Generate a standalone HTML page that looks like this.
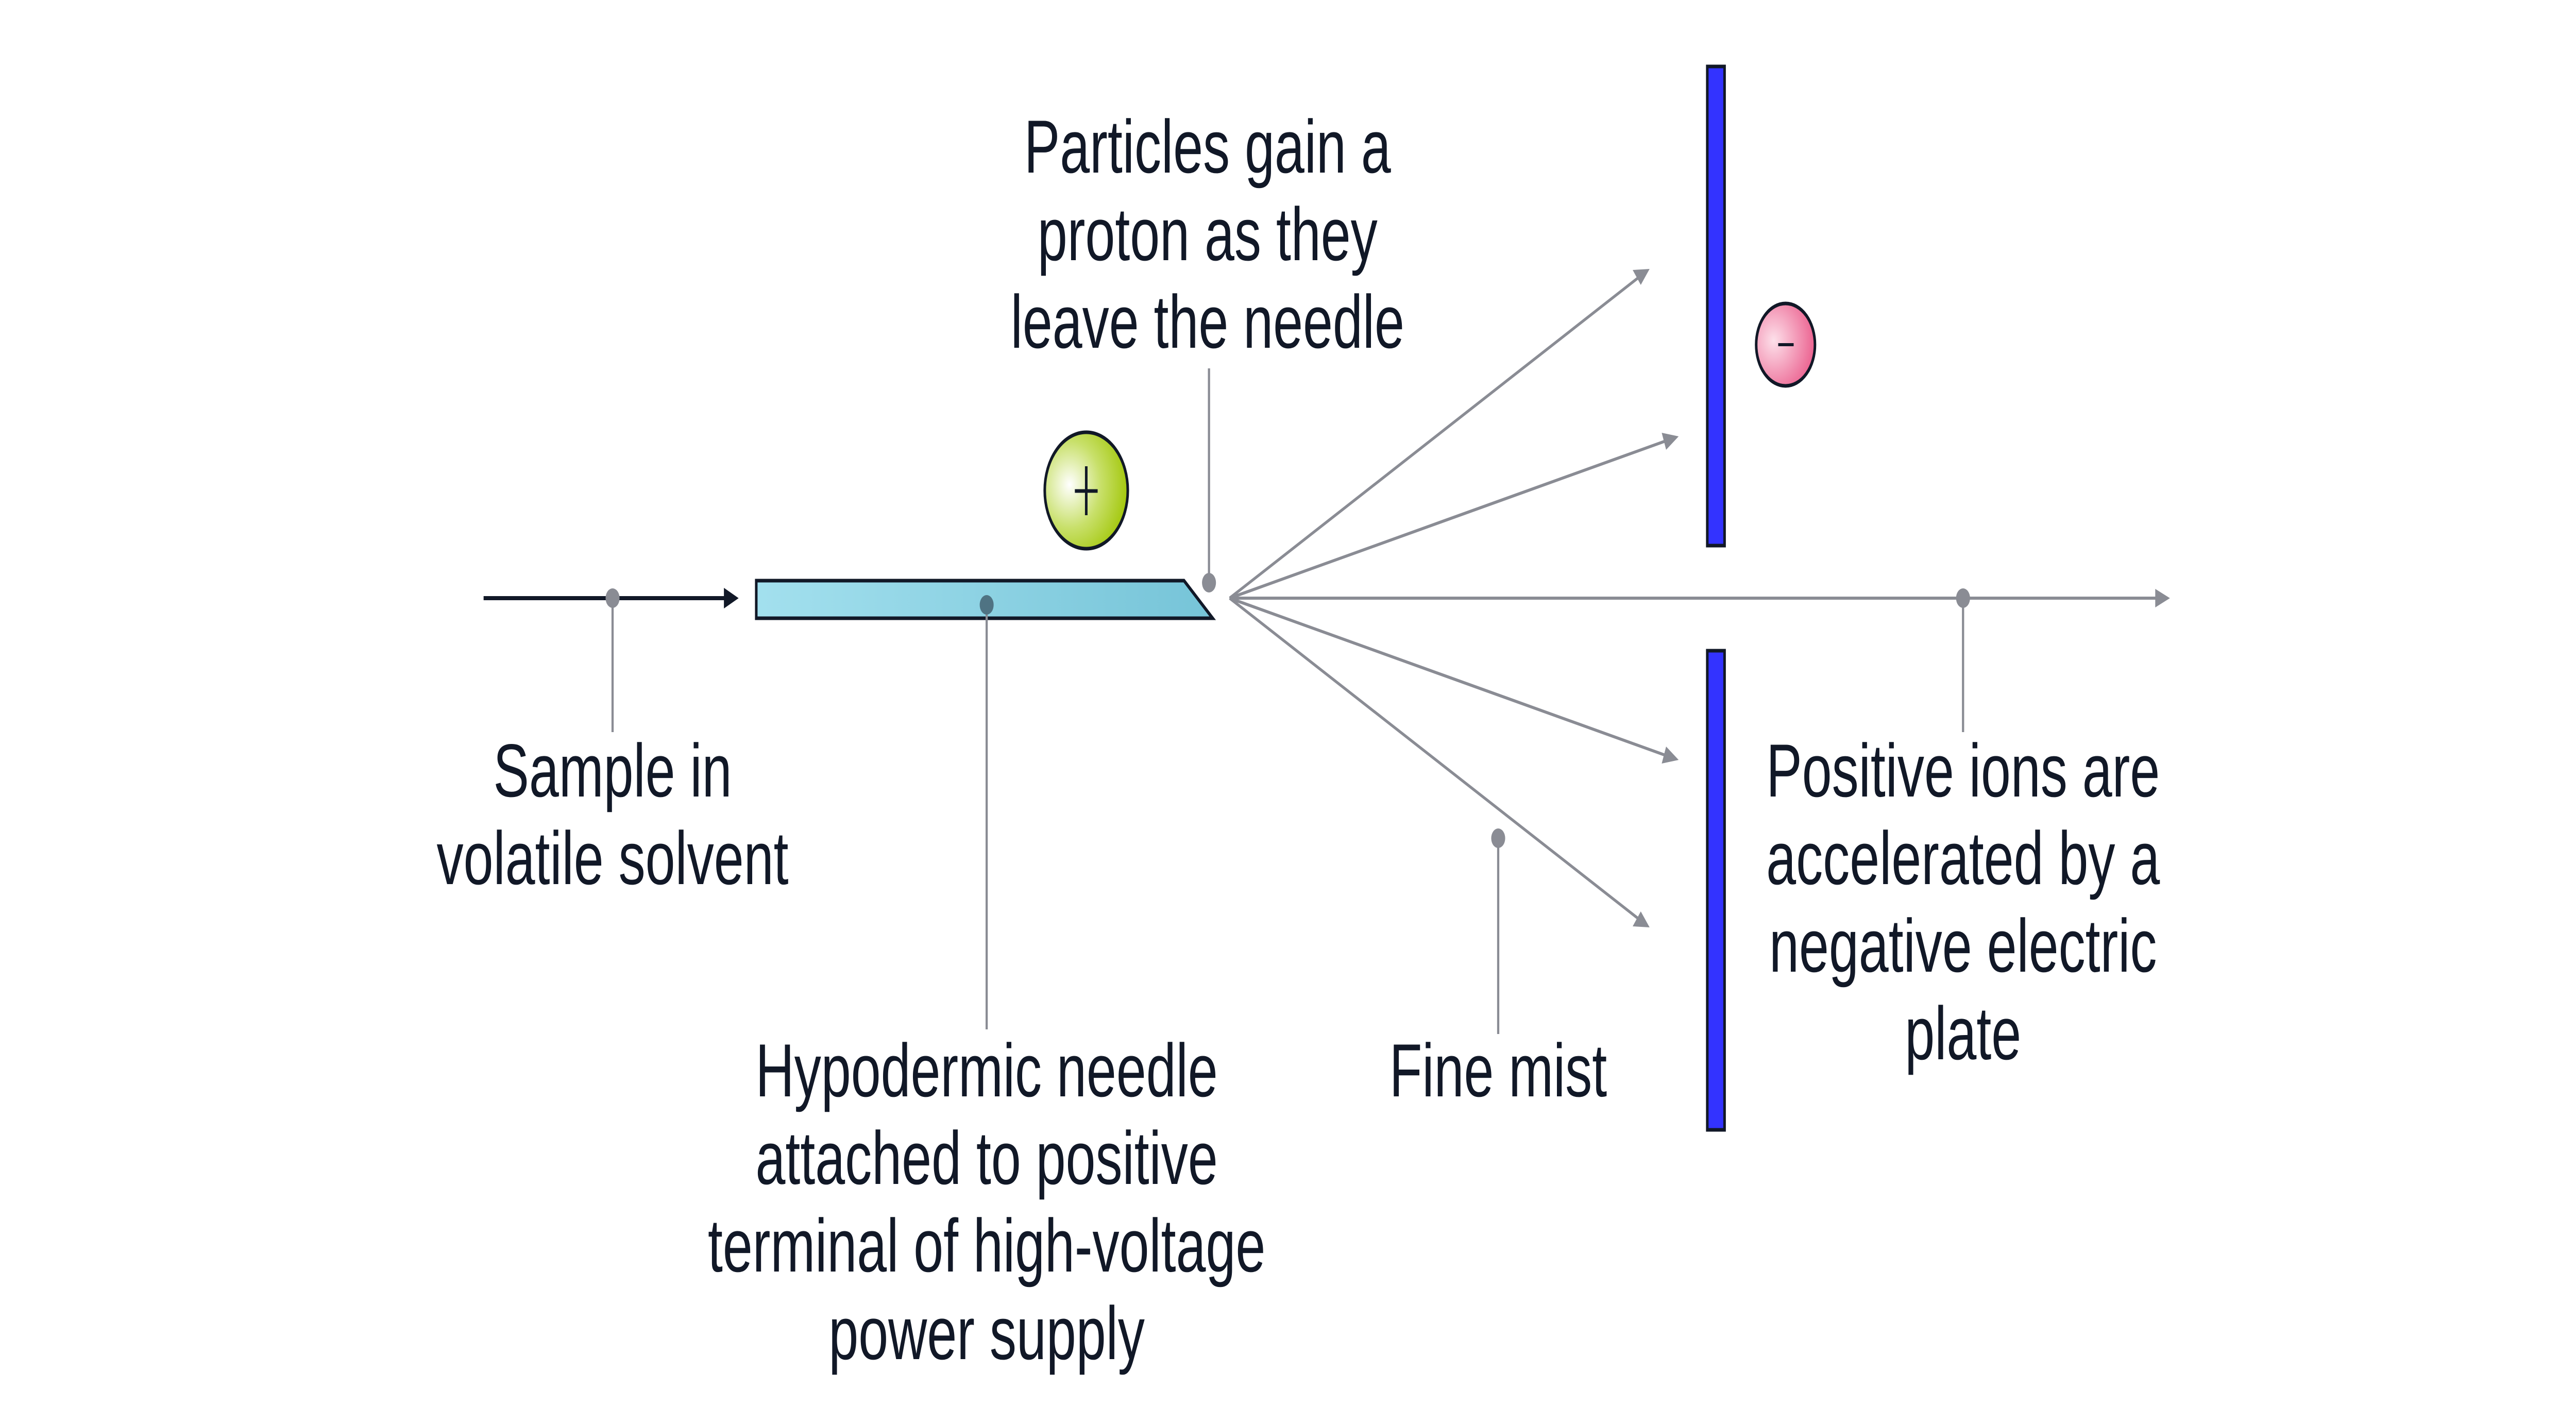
<!DOCTYPE html>
<html><head><meta charset="utf-8"><style>
html,body{margin:0;padding:0;background:#fff;width:100%;height:100%;overflow:hidden;}
svg{display:block;width:100vw;height:100vh;}
text{font-family:"Liberation Sans",Arial,sans-serif;font-size:146px;fill:#111827;text-anchor:middle;}
</style></head><body>
<svg viewBox="0 0 7010 2762" preserveAspectRatio="none" xmlns="http://www.w3.org/2000/svg">
<defs>
<linearGradient id="ng" x1="0" y1="0" x2="1" y2="0"><stop offset="0" stop-color="#a3e0ee"/><stop offset="1" stop-color="#76c4d8"/></linearGradient>
<radialGradient id="gg" cx="0.3" cy="0.45" r="0.75"><stop offset="0" stop-color="#ffffff"/><stop offset="0.5" stop-color="#c8e06a"/><stop offset="1" stop-color="#9ec400"/></radialGradient>
<radialGradient id="pg" cx="0.3" cy="0.45" r="0.75"><stop offset="0" stop-color="#fde0ea"/><stop offset="1" stop-color="#ea5a8a"/></radialGradient>
</defs>
<line x1="1316" y1="1161" x2="1990" y2="1161" stroke="#111827" stroke-width="8"/>
<polygon points="2010,1161 1970,1141 1970,1181" fill="#111827"/>
<polygon points="2058,1127 3222,1127 3300,1200 2058,1200" fill="url(#ng)" stroke="#111827" stroke-width="7"/>
<circle cx="2956" cy="952" r="113" fill="url(#gg)" stroke="#111827" stroke-width="7"/>
<line x1="2956" y1="905" x2="2956" y2="1000" stroke="#111827" stroke-width="7"/>
<line x1="2925" y1="953" x2="2987" y2="953" stroke="#111827" stroke-width="7"/>
<rect x="4646" y="129" width="47" height="930" fill="#3333ff" stroke="#111827" stroke-width="7"/>
<rect x="4646" y="1263" width="47" height="930" fill="#3333ff" stroke="#111827" stroke-width="7"/>
<circle cx="4859" cy="669" r="80" fill="url(#pg)" stroke="#111827" stroke-width="7"/>
<line x1="4839" y1="669" x2="4881" y2="669" stroke="#111827" stroke-width="6"/>
<g stroke="#8a8c94" stroke-width="6" fill="none">
<line x1="3346" y1="1161" x2="4460" y2="538"/>
<line x1="3346" y1="1161" x2="4540" y2="854"/>
<line x1="3346" y1="1161" x2="5880" y2="1161"/>
<line x1="3346" y1="1161" x2="4540" y2="1468"/>
<line x1="3346" y1="1161" x2="4460" y2="1784"/>
</g>
<g fill="#8a8c94">
<polygon points="4489,522 4443,524 4465,553"/>
<polygon points="4568,847 4522,840 4534,873"/>
<polygon points="5905,1161 5865,1143 5865,1179"/>
<polygon points="4568,1475 4522,1482 4534,1449"/>
<polygon points="4489,1800 4443,1798 4465,1769"/>
</g>
<g stroke="#8a8c94" stroke-width="6">
<line x1="1667" y1="1161" x2="1667" y2="1421"/>
<line x1="2685" y1="1174" x2="2685" y2="1998"/>
<line x1="3290" y1="1131" x2="3290" y2="715"/>
<line x1="4077" y1="1627" x2="4077" y2="2007"/>
<line x1="5342" y1="1161" x2="5342" y2="1421"/>
</g>
<g fill="#8a8c94">
<circle cx="1667" cy="1161" r="19"/>
<circle cx="2685" cy="1174" r="19" fill="#4f7383"/>
<circle cx="3290" cy="1131" r="19"/>
<circle cx="4077" cy="1627" r="19"/>
<circle cx="5342" cy="1161" r="19"/>
</g>
<text x="1667" y="1546">Sample in</text>
<text x="1667" y="1716">volatile solvent</text>
<text x="2685" y="2128">Hypodermic needle</text>
<text x="2685" y="2298">attached to positive</text>
<text x="2685" y="2468">terminal of high-voltage</text>
<text x="2685" y="2638">power supply</text>
<text x="3286" y="335">Particles gain a</text>
<text x="3286" y="505">proton as they</text>
<text x="3286" y="675">leave the needle</text>
<text x="4077" y="2128">Fine mist</text>
<text x="5342" y="1546">Positive ions are</text>
<text x="5342" y="1716">accelerated by a</text>
<text x="5342" y="1886">negative electric</text>
<text x="5342" y="2056">plate</text>
</svg>
</body></html>
